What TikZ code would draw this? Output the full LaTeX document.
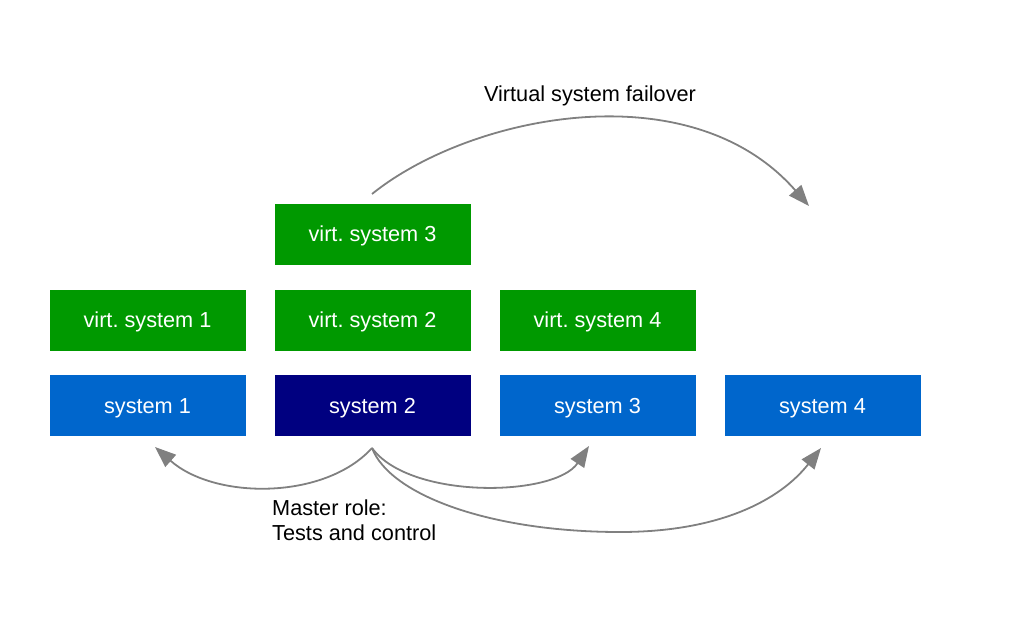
\documentclass[tikz,border=0pt]{standalone}
\usepackage{fontspec}
\setmainfont{Liberation Sans}
\usetikzlibrary{arrows.meta}
\definecolor{sysblue}{HTML}{0066CC}
\definecolor{sysnavy}{HTML}{000080}
\definecolor{virtgreen}{HTML}{009900}
\definecolor{arrgray}{HTML}{808080}
\tikzset{
  box/.style={minimum width=196pt, minimum height=61pt, inner sep=0pt, text=white, text height=15.5pt, text depth=0pt, font=\fontsize{21.7}{25}\selectfont},
  sysbox/.style={box, fill=sysblue},
  masterbox/.style={box, fill=sysnavy},
  virtbox/.style={box, fill=virtgreen},
  link/.style={draw=arrgray, line width=1.8pt, -{Triangle[length=21pt,width=16pt]}, arrgray},
  lbl/.style={font=\fontsize{21.7}{25}\selectfont, inner sep=0pt}
}
\begin{document}
\frenchspacing
\begin{tikzpicture}[x=1pt,y=-1pt]
\useasboundingbox (0,0) rectangle (1030,621);
\node[sysbox] (s1) at (147.5,405.5) {system 1};
\node[masterbox] (s2) at (372.5,405.5) {system 2};
\node[sysbox] (s3) at (597.5,405.5) {system 3};
\node[sysbox] (s4) at (822.5,405.5) {system 4};
\node[virtbox] (v1) at (147.5,320) {virt.\ system 1};
\node[virtbox] (v2) at (372.5,320) {virt.\ system 2};
\node[virtbox] (v4) at (597.5,320) {virt.\ system 4};
\node[virtbox] (v3) at (372.5,234) {virt.\ system 3};

\coordinate (m) at (372,448);
\coordinate (t1) at (155,447);
\coordinate (t3) at (589,446);
\coordinate (t4) at (821,448);
\coordinate (b4) at (620,532);
\coordinate (fs) at (372,194);
\coordinate (ft) at (809,206);

\draw[link] (m) .. controls (325,500) and (215,500) .. (t1);
\draw[link] (m) .. controls (410,500) and (555,497) .. (t3);
\draw[link] (m) .. controls (390,495) and (490,532) .. (b4) .. controls (720,532) and (780,500) .. (t4);
\draw[link] (fs) .. controls (470,115) and (690,70) .. (ft);

\node[lbl, anchor=base west, align=left] (mr) at (272,540) {Master role:\\Tests and control};
\node[lbl] (vf) at (590,96) {Virtual system failover};
\end{tikzpicture}
\end{document}
